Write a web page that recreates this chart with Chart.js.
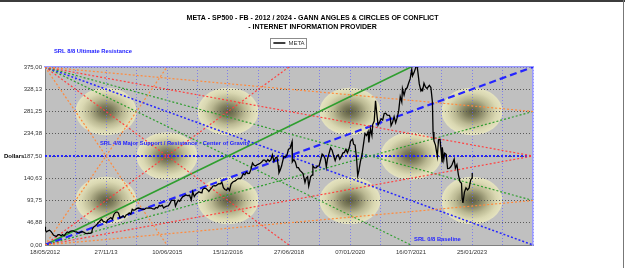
<!DOCTYPE html>
<html>
<head>
<meta charset="utf-8">
<script src="https://cdn.jsdelivr.net/npm/chart.js@4"></script>
<style>
body { margin: 0; background: #fff; }
#wrap { position: relative; width: 625px; height: 268px; overflow: hidden; }
#wrap canvas { position: absolute; left: 0; top: 0; }
.edge-top { position: absolute; left: 0; top: 0; width: 625px; height: 2px; background: #3c3c3c; }
.edge-right { position: absolute; left: 623px; top: 0; width: 1px; height: 268px; background: #777; }
</style>
</head>
<body>
<div id="wrap">
<canvas id="gannChart" width="625" height="268"></canvas>
<div class="edge-top"></div><div class="edge-right"></div>
</div>
<script>
// META closing price (approx.)
var dates = [
    '2012-05-18','2012-05-22','2012-06-01','2012-06-15','2012-06-29','2012-07-13','2012-07-27','2012-08-03','2012-08-17','2012-08-31','2012-09-14','2012-09-28','2012-10-12','2012-10-26','2012-11-09','2012-11-23','2012-12-07','2012-12-21',
    '2013-01-04','2013-01-18','2013-02-01','2013-02-15','2013-03-01','2013-03-15','2013-03-28','2013-04-12','2013-04-26','2013-05-10','2013-05-24','2013-06-07','2013-06-21','2013-07-05','2013-07-19','2013-07-26','2013-08-09','2013-08-23','2013-09-06','2013-09-20','2013-10-04','2013-10-18','2013-11-01','2013-11-15','2013-11-29','2013-12-13','2013-12-27',
    '2014-01-10','2014-01-24','2014-02-07','2014-02-21','2014-03-07','2014-03-21','2014-04-04','2014-04-18','2014-05-02','2014-05-16','2014-05-30','2014-06-13','2014-06-27','2014-07-11','2014-07-25','2014-08-08','2014-08-22','2014-09-05','2014-09-19','2014-10-03','2014-10-17','2014-10-31','2014-11-14','2014-11-28','2014-12-12','2014-12-31',
    '2015-01-16','2015-01-30','2015-02-13','2015-02-27','2015-03-13','2015-03-27','2015-04-10','2015-04-24','2015-05-08','2015-05-22','2015-06-05','2015-06-19','2015-07-03','2015-07-17','2015-07-31','2015-08-14','2015-08-24','2015-09-04','2015-09-18','2015-10-02','2015-10-16','2015-10-30','2015-11-13','2015-11-27','2015-12-11','2015-12-31',
    '2016-01-15','2016-01-29','2016-02-12','2016-02-26','2016-03-11','2016-03-25','2016-04-08','2016-04-22','2016-04-28','2016-05-13','2016-05-27','2016-06-10','2016-06-24','2016-07-08','2016-07-22','2016-07-29','2016-08-12','2016-08-26','2016-09-09','2016-09-23','2016-10-07','2016-10-21','2016-11-04','2016-11-18','2016-12-02','2016-12-16','2016-12-30',
    '2017-01-13','2017-01-27','2017-02-10','2017-02-24','2017-03-10','2017-03-24','2017-04-07','2017-04-21','2017-05-05','2017-05-19','2017-06-02','2017-06-16','2017-06-30','2017-07-14','2017-07-28','2017-08-11','2017-08-25','2017-09-08','2017-09-22','2017-10-06','2017-10-20','2017-11-03','2017-11-17','2017-12-01','2017-12-15','2017-12-29',
    '2018-01-12','2018-01-26','2018-02-09','2018-02-23','2018-03-09','2018-03-20','2018-03-27','2018-04-06','2018-04-20','2018-04-27','2018-05-11','2018-05-25','2018-06-08','2018-06-22','2018-07-06','2018-07-25','2018-07-27','2018-08-10','2018-08-24','2018-09-07','2018-09-21','2018-10-05','2018-10-19','2018-11-02','2018-11-20','2018-11-30','2018-12-14','2018-12-24','2018-12-31',
    '2019-01-11','2019-01-25','2019-01-31','2019-02-15','2019-03-01','2019-03-15','2019-03-29','2019-04-12','2019-04-26','2019-05-10','2019-05-24','2019-06-03','2019-06-14','2019-06-28','2019-07-12','2019-07-26','2019-08-09','2019-08-23','2019-09-06','2019-09-20','2019-10-04','2019-10-18','2019-11-01','2019-11-15','2019-11-29','2019-12-13','2019-12-31',
    '2020-01-10','2020-01-29','2020-02-07','2020-02-21','2020-03-06','2020-03-16','2020-03-27','2020-04-09','2020-04-24','2020-05-08','2020-05-22','2020-06-05','2020-06-19','2020-06-26','2020-07-10','2020-07-24','2020-07-31','2020-08-14','2020-08-26','2020-09-04','2020-09-18','2020-10-02','2020-10-16','2020-10-30','2020-11-13','2020-11-27','2020-12-11','2020-12-31',
    '2021-01-08','2021-01-15','2021-01-29','2021-02-12','2021-02-26','2021-03-12','2021-03-26','2021-04-09','2021-04-23','2021-04-29','2021-05-14','2021-05-28','2021-06-11','2021-06-25','2021-07-09','2021-07-23','2021-07-30','2021-08-13','2021-08-27','2021-09-07','2021-09-17','2021-09-30','2021-10-15','2021-10-26','2021-10-29','2021-11-12','2021-11-26','2021-12-10','2021-12-31',
    '2022-01-14','2022-01-28','2022-02-03','2022-02-11','2022-02-25','2022-03-14','2022-03-25','2022-04-08','2022-04-26','2022-04-28','2022-05-12','2022-05-20','2022-06-03','2022-06-16','2022-06-30','2022-07-15','2022-07-27','2022-08-15','2022-08-26','2022-09-09','2022-09-23','2022-10-07','2022-10-21','2022-10-27','2022-11-03','2022-11-17','2022-12-01','2022-12-15','2022-12-30',
    '2023-01-13','2023-01-25','2023-01-27'
];
var prices = [
    38.2, 31.0, 27.7, 30.0, 31.1, 28.3, 23.7, 21.1, 19.1, 18.1, 22.0, 21.7, 19.5, 21.9, 19.2, 24.0, 27.5, 26.3,
    28.8, 29.7, 29.7, 28.3, 27.8, 26.0, 25.6, 27.4, 27.9, 26.7, 24.3, 24.0, 24.5, 24.4, 25.9, 34.4, 38.5, 40.5, 43.9, 47.5, 51.0, 54.2, 49.8, 49.0, 47.0, 53.3, 55.4,
    57.9, 54.4, 64.3, 68.6, 69.8, 67.2, 56.8, 58.9, 61.5, 58.0, 63.3, 64.5, 67.6, 64.9, 75.2, 73.1, 74.6, 77.0, 77.9, 77.4, 75.9, 75.0, 74.9, 77.7, 77.8, 78.0,
    77.8, 75.9, 75.7, 79.0, 78.0, 83.0, 82.0, 84.0, 78.0, 80.5, 82.0, 82.5, 87.0, 94.0, 94.0, 94.2, 82.0, 88.0, 94.3, 92.0, 97.5, 102.0, 103.6, 105.5, 104.0, 104.7,
    94.9, 112.2, 102.0, 107.0, 109.6, 112.2, 110.6, 110.1, 116.7, 119.8, 119.5, 116.6, 112.9, 117.2, 121.0, 123.9, 124.9, 124.6, 127.1, 129.0, 128.9, 132.1, 120.8, 117.0, 115.4, 119.9, 115.0,
    128.3, 132.2, 134.2, 135.4, 138.7, 140.3, 139.4, 143.7, 150.2, 148.0, 153.6, 150.6, 151.0, 159.3, 172.5, 168.1, 166.3, 169.2, 170.5, 172.2, 174.6, 178.9, 179.0, 175.1, 180.2, 176.5,
    179.4, 190.0, 176.1, 183.3, 185.2, 168.1, 152.2, 157.2, 166.3, 173.6, 186.9, 184.9, 189.1, 201.7, 203.2, 217.5, 174.9, 180.2, 174.6, 163.0, 162.9, 157.3, 154.0, 150.4, 131.7, 140.6, 144.0, 124.1, 131.1,
    144.2, 147.5, 166.7, 162.3, 162.3, 166.0, 166.7, 179.1, 191.5, 188.3, 181.1, 164.2, 181.3, 193.0, 204.9, 199.8, 187.9, 177.8, 187.5, 189.9, 180.5, 185.9, 193.6, 195.1, 201.6, 194.1, 205.3,
    218.3, 223.2, 212.3, 210.2, 181.1, 146.0, 156.8, 175.2, 190.1, 212.4, 234.9, 230.8, 238.8, 216.1, 245.1, 230.7, 253.7, 261.2, 303.9, 282.7, 252.5, 259.0, 265.9, 263.1, 277.0, 277.8, 273.6, 273.2,
    268.0, 251.4, 258.3, 270.5, 257.6, 268.4, 283.0, 312.5, 301.1, 329.5, 315.9, 328.7, 331.3, 341.4, 350.4, 369.8, 356.3, 363.2, 372.6, 382.2, 364.7, 339.4, 324.8, 328.7, 323.6, 340.9, 333.1, 329.8, 336.4,
    331.9, 301.7, 237.8, 219.6, 210.5, 186.6, 221.8, 222.3, 175.0, 205.7, 180.0, 193.5, 190.8, 160.9, 161.3, 164.7, 169.6, 180.9, 161.8, 169.2, 147.3, 133.5, 130.0, 97.9, 88.9, 111.5, 120.4, 116.2, 120.3,
    137.0, 141.6, 151.7
];

// x axis: labelled dates and their labels
var xLabelDates = ['2012-05-18', '2013-11-27', '2015-06-10', '2016-12-15', '2018-06-27', '2020-01-07', '2021-07-16', '2023-01-25'];
var xLabels = ['18/05/2012', '27/11/13', '10/06/2015', '15/12/2016', '27/06/2018', '07/01/2020', '16/07/2021', '25/01/2023'];

// y axis (eighths of the range)
var yMax = 375;
var yStep = 46.875;

// Gann fan: where the corner lines meet the right edge
var fanRight = [93.75, 187.5, 281.25, 375];
// steep angles: grid column where they reach top / bottom
var steepCols = [4, 8, 12];
// circles of conflict
var circleCols = [2, 6, 10, 14, 4, 12, 2, 6, 10, 14];
var circleVals = [281.25, 281.25, 281.25, 281.25, 187.5, 187.5, 93.75, 93.75, 93.75, 93.75];
var srlMid = 187.5;

var FONT = '"Liberation Sans", Arial, sans-serif';
Chart.defaults.font.family = FONT;

var t0 = Date.parse(xLabelDates[0]);
function toDay(d) { return (Date.parse(d) - t0) / 864e5; }
var labelDays = xLabelDates.map(toDay);
var col = (labelDays[labelDays.length - 1] - labelDays[0]) / 14;   // days per grid column
var xMax = col * 16;
var tickDays = [];
labelDays.forEach(function (d, i) {
    tickDays.push(d);
    tickDays.push(i < labelDays.length - 1 ? (d + labelDays[i + 1]) / 2 : d + col);
});
tickDays.push(xMax);

var ORANGE = '#ff8a3d', RED = '#ff4040', GREEN = '#2f9e2f', BLUE = '#2424ff';
var levelColors = [ORANGE, RED, GREEN, BLUE];

function seg(x0, y0, x1, y1) { return [{ x: x0, y: y0 }, { x: x1, y: y1 }]; }
function gann(data, color, extra) {
    return Object.assign({ data: data, borderColor: color, borderWidth: 1.2, borderDash: [2, 2], pointRadius: 0, fill: false }, extra || {});
}

var datasets = [{
    label: 'META',
    data: dates.map(function (d, i) { return { x: toDay(d), y: prices[i] }; }),
    borderColor: '#000',
    borderWidth: 1.3,
    pointRadius: 0,
    tension: 0
}];
fanRight.forEach(function (v, i) {
    datasets.push(gann(seg(0, 0, xMax, v), levelColors[i], i === 3 ? { borderWidth: 2.2, borderDash: [7, 4] } : null));
    datasets.push(gann(seg(0, yMax, xMax, yMax - v), levelColors[i], i === 3 ? { borderWidth: 1.5 } : null));
});
steepCols.forEach(function (k, i) {
    datasets.push(gann(seg(0, 0, k * col, yMax), levelColors[i], i === 2 ? { borderWidth: 1.6, borderDash: [] } : null));
    datasets.push(gann(seg(0, yMax, k * col, 0), levelColors[i]));
});
datasets.push(gann(seg(0, srlMid, xMax, srlMid), BLUE, { borderWidth: 2 }));

// plot background, circles, labels
var gannPlugin = {
    id: 'gann',
    beforeDraw: function (chart) {
        var ctx = chart.ctx, a = chart.chartArea, x = chart.scales.x, y = chart.scales.y;
        ctx.save();
        ctx.fillStyle = '#c0c0c0';
        ctx.fillRect(a.left, a.top, a.width, a.height);
        ctx.beginPath();
        ctx.rect(a.left, a.top, a.width, a.height);
        ctx.clip();
        var rx = x.getPixelForValue(col) - x.getPixelForValue(0);
        var ry = y.getPixelForValue(0) - y.getPixelForValue(50);
        circleCols.forEach(function (c, i) {
            ctx.save();
            ctx.translate(x.getPixelForValue(c * col), y.getPixelForValue(circleVals[i]));
            ctx.scale(rx, ry);
            var g = ctx.createRadialGradient(0, 0, 0, 0, 0, 1);
            g.addColorStop(0, 'rgb(92,92,64)');
            g.addColorStop(0.25, 'rgb(128,127,94)');
            g.addColorStop(0.55, 'rgb(186,184,146)');
            g.addColorStop(0.8, 'rgb(218,216,178)');
            g.addColorStop(1, 'rgb(229,227,192)');
            ctx.fillStyle = g;
            ctx.beginPath();
            ctx.arc(0, 0, 1, 0, Math.PI * 2);
            ctx.fill();
            ctx.restore();
        });
        ctx.restore();
    },
    afterDraw: function (chart) {
        var ctx = chart.ctx, a = chart.chartArea, x = chart.scales.x, y = chart.scales.y;
        ctx.save();
        var hb = chart.legend.legendHitBoxes[0];
        if (hb) {
            ctx.strokeStyle = '#8c8c8c';
            ctx.lineWidth = 1;
            ctx.strokeRect(Math.round(hb.left - 3) + 0.5, Math.round(hb.top - 2) + 0.5, Math.round(hb.width + 5), 10);
        }
        ctx.textBaseline = 'middle';
        ctx.textAlign = 'left';
        ctx.fillStyle = '#000';
        ctx.font = 'bold 6px ' + FONT;
        ctx.fillText('Dollars', 4, y.getPixelForValue(srlMid));
        ctx.fillStyle = BLUE;
        ctx.font = 'bold 5.8px ' + FONT;
        ctx.fillText('SRL 8/8 Ultimate Resistance', a.left + 9, a.top - 16);
        ctx.fillText('SRL 4/8 Major Support / Resistance - Center of Gravity', x.getPixelForValue(1.8 * col), y.getPixelForValue(srlMid) - 13);
        ctx.fillText('SRL 0/8 Baseline', x.getPixelForValue(12.1 * col), a.bottom - 6);
        ctx.restore();
    }
};

var ctx = document.getElementById('gannChart');
var myChart = new Chart(ctx, {
    type: 'line',
    data: { datasets: datasets },
    plugins: [gannPlugin],
    options: {
        responsive: false,
        animation: false,
        events: [],
        layout: { padding: 0 },
        plugins: {
            title: {
                display: true,
                text: ['META - SP500 - FB - 2012 / 2024 - GANN ANGLES & CIRCLES OF CONFLICT', '- INTERNET INFORMATION PROVIDER'],
                color: '#000',
                font: { size: 7, weight: 'bold', lineHeight: 1.3 },
                padding: { top: 13.5, bottom: 3 }
            },
            legend: {
                fullSize: false,
                labels: {
                    filter: function (it) { return it.datasetIndex === 0; },
                    usePointStyle: true,
                    pointStyle: 'line',
                    pointStyleWidth: 12,
                    color: '#333',
                    font: { size: 6 },
                    padding: 5.3
                }
            },
            tooltip: { enabled: false }
        },
        scales: {
            x: {
                type: 'linear',
                min: 0,
                max: xMax,
                afterBuildTicks: function (s) { s.ticks = tickDays.map(function (v) { return { value: v }; }); },
                afterFit: function (s) { s.height = 23; },
                ticks: {
                    autoSkip: false,
                    maxRotation: 0,
                    padding: 4,
                    color: '#333',
                    font: { size: 6 },
                    callback: function (v, i) { return i % 2 === 0 ? (xLabels[i / 2] || '') : ''; }
                },
                grid: { color: 'rgba(100,100,255,0.7)', drawTicks: false },
                border: { color: '#808080', dash: [1, 2] }
            },
            xTop: {
                type: 'linear',
                position: 'top',
                min: 0,
                max: xMax,
                ticks: { display: false },
                grid: { display: false },
                border: { color: '#9a9aff', width: 1.5 },
                afterFit: function (s) { s.height = 11; }
            },
            y: {
                min: 0,
                max: yMax,
                afterFit: function (s) { s.width = 45; },
                ticks: {
                    stepSize: yStep,
                    padding: 3,
                    color: '#333',
                    font: { size: 6 },
                    callback: function (v) { return v.toFixed(2).replace('.', ','); }
                },
                grid: { color: '#5a5a5a', drawTicks: false },
                border: { color: '#808080', dash: [1, 2] }
            },
            y2: {
                position: 'right',
                min: 0,
                max: yMax,
                ticks: { display: false },
                grid: { display: false },
                border: { color: '#9a9aff', width: 1.5 },
                afterFit: function (s) { s.width = 92; }
            }
        }
    }
});
</script>
</body>
</html>
